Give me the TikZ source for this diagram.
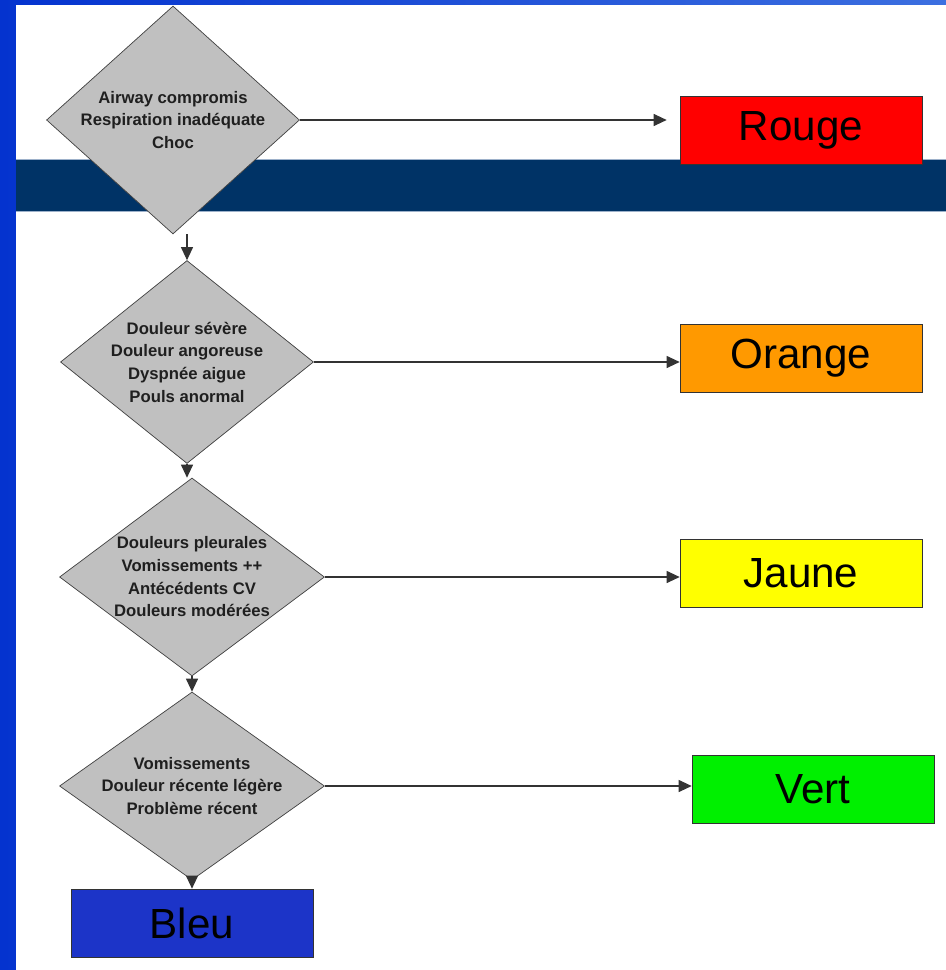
\documentclass[tikz,border=0pt]{standalone}
\usepackage{fontspec}
\setmainfont{Liberation Sans}
\usetikzlibrary{shapes.geometric,arrows.meta,positioning}
\usepackage{xcolor}

\definecolor{slideblue}{HTML}{0433CF}
\definecolor{slidelight}{HTML}{3C6FE0}
\definecolor{bandnavy}{HTML}{003366}
\definecolor{bandedge}{HTML}{9DB1CA}
\definecolor{diamgray}{HTML}{C0C0C0}
\definecolor{cRouge}{HTML}{FF0000}
\definecolor{cOrange}{HTML}{FF9900}
\definecolor{cJaune}{HTML}{FFFF00}
\definecolor{cVert}{HTML}{00F000}
\definecolor{cBleu}{HTML}{1C34C8}

\begin{document}
\begin{tikzpicture}[
    x=0.02cm, y=-0.02cm,
    decision/.style={diamond, draw=black!75, fill=diamgray, inner sep=-1pt, align=center, text=black!88, font=\bfseries\fontsize{9.5}{12.9}\selectfont},
    level/.style={rectangle, draw=black!80, minimum width=4.84cm, minimum height=1.36cm, font=\fontsize{24}{28}\selectfont},
    arrow/.style={-{Triangle[length=0.26cm,width=0.24cm]}, line width=0.6pt, draw=black!80}
]
\useasboundingbox (0,0) rectangle (946,970);

% Slide background
\shade[left color=slideblue, right color=slidelight] (0,0) rectangle (946,970);
\fill[white] (16,5) rectangle (946,970);
\fill[bandnavy] (16,159) rectangle (946,211);
\draw[bandedge, line width=0.5pt] (16,159) -- (946,159) (16,211) -- (946,211);

% Criteria
\node[decision, minimum width=5.06cm, minimum height=4.56cm, shape aspect=1.11] (airway) at (173,120) {Airway compromis\\Respiration inadéquate\\Choc};
\node[decision, minimum width=5.06cm, minimum height=4.06cm, shape aspect=1.25] (severe) at (187,362) {Douleur sévère\\Douleur angoreuse\\Dyspnée aigue\\Pouls anormal};
\node[decision, minimum width=5.3cm, minimum height=3.96cm, shape aspect=1.34] (pleural) at (192,577) {Douleurs pleurales\\Vomissements ++\\Antécédents CV\\Douleurs modérées};
\node[decision, minimum width=5.3cm, minimum height=3.76cm, shape aspect=1.41] (recent) at (192,786) {Vomissements\\Douleur récente légère\\Problème récent};

% Triage levels
\node[level, fill=cRouge] (rouge) at (801,130) {Rouge};
\node[level, fill=cOrange] (orange) at (801,358) {Orange};
\node[level, fill=cJaune] (jaune) at (801,573) {Jaune};
\node[level, fill=cVert] (vert) at (813,789) {Vert};
\node[level, fill=cBleu] (bleu) at (192,923) {Bleu};

% Connections
\draw[arrow, shorten >=0.26cm] (airway.east) -- (airway.east -| rouge.west);
\draw[arrow] (severe.east) -- (severe.east -| orange.west);
\draw[arrow] (pleural.east) -- (pleural.east -| jaune.west);
\draw[arrow] (recent.east) -- (recent.east -| vert.west);
\draw[arrow] (severe.north |- airway.south) -- (severe.north);
\draw[arrow] (severe.south) -- (severe.south |- pleural.north);
\draw[arrow] (pleural.south) -- (recent.north);
\draw[arrow] (recent.south) -- (bleu.north);

\end{tikzpicture}
\end{document}
